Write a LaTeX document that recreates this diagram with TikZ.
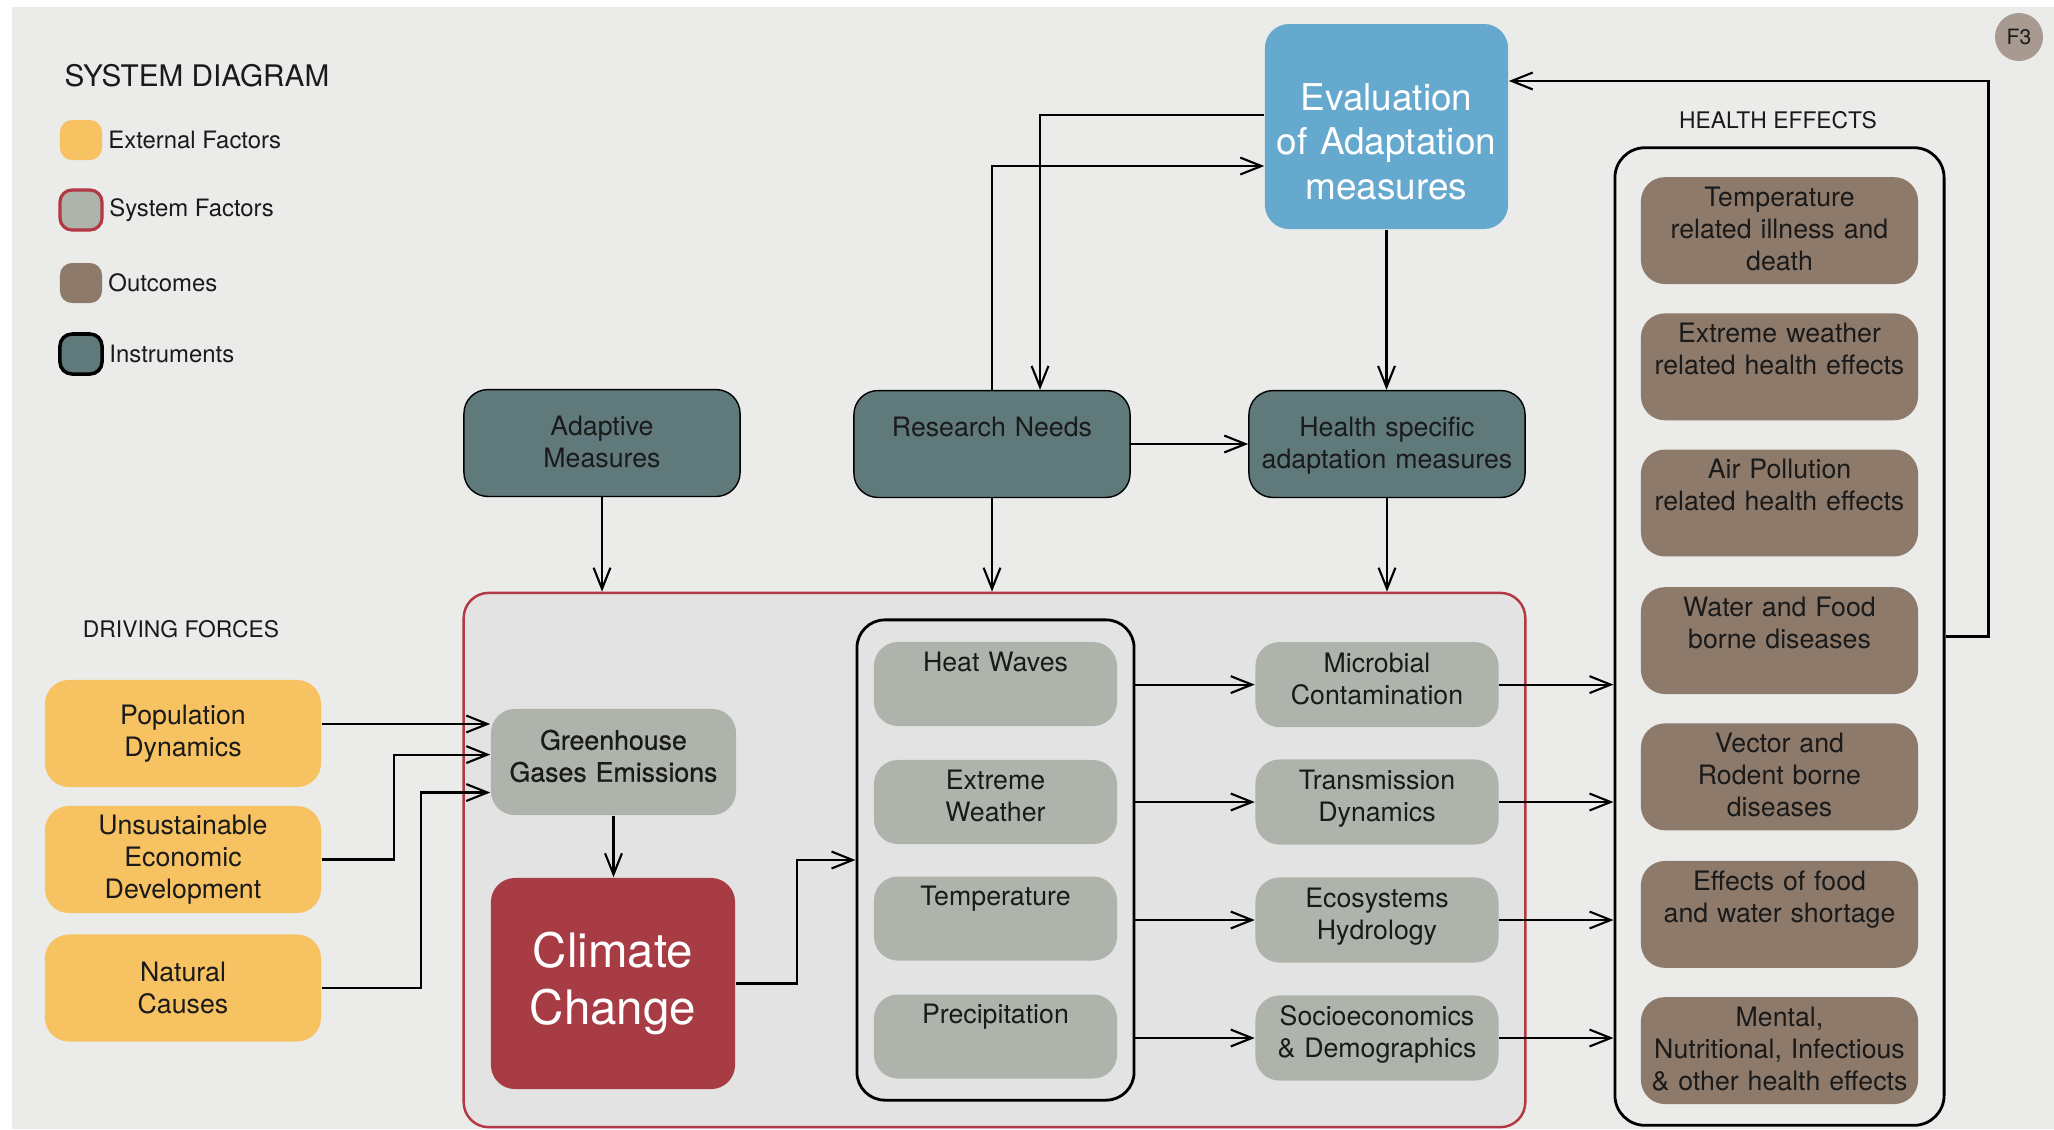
\documentclass[tikz,border=0pt]{standalone}
\usepackage{fontspec}
\setmainfont{TeX Gyre Heros}
\newfontfamily\medfont[FakeBold=0.8]{TeX Gyre Heros}
\usetikzlibrary{arrows.meta,positioning}

\definecolor{bgcol}{HTML}{EBECE9}
\definecolor{extcol}{HTML}{F7C262}
\definecolor{syscol}{HTML}{AEB4AC}
\definecolor{sysbg}{HTML}{E3E3E3}
\definecolor{sysred}{HTML}{B23843}
\definecolor{climcol}{HTML}{A83C45}
\definecolor{instcol}{HTML}{607A7C}
\definecolor{outcol}{HTML}{8D7A6B}
\definecolor{evalcol}{HTML}{66A9CF}
\definecolor{fthreecol}{HTML}{A89A90}
\definecolor{txtcol}{HTML}{1A1A1A}

\newcommand{\boxfont}{\fontsize{7.6}{9.1}\selectfont}
\newcommand{\legfont}{\fontsize{6.8}{8}\selectfont}
\newcommand{\headfont}{\fontsize{6.5}{8}\selectfont}
\newcommand{\titlefont}{\fontsize{8.45}{10}\selectfont}

\tikzset{
    box/.style={rounded corners=0.24cm, inner xsep=0.05cm, inner ysep=0pt,
        align=center, font=\boxfont, text=txtcol},
    extbox/.style={box, fill=extcol, text width=2.66cm, minimum height=1.07cm},
    sysfac/.style={box, fill=syscol, text width=2.33cm},
    wthbox/.style={sysfac, text height=8.3pt, text depth=15.6pt},
    midbox/.style={sysfac, text height=8.6pt, text depth=15.6pt},
    instbox/.style={box, fill=instcol, draw=black, line width=0.4pt,
        text width=2.66cm, text height=13.1pt, text depth=17.3pt},
    outbox/.style={box, fill=outcol, text width=2.67cm,
        text height=8.3pt, text depth=22.1pt},
    frame/.style={draw=black, line width=0.8pt, rounded corners=0.28cm,
        inner sep=0pt},
    swatch/.style={rounded corners=0.12cm, minimum width=0.42cm,
        minimum height=0.40cm, inner sep=0pt},
    legtxt/.style={font=\legfont, inner sep=0.02cm, text=txtcol},
    head/.style={font=\headfont, text=txtcol},
    flow/.style={->, line width=0.6pt}
}

\begin{document}
\begin{tikzpicture}[x=0.01cm, y=-0.01cm, >={Straight Barb[length=6pt,width=4.8pt]}]

    \useasboundingbox (0,0) rectangle (2054,1129);
    \fill[white] (0,0) rectangle (2054,1129);
    \fill[bgcol] (12,7) rectangle (2054,1129);

    % Llegenda
    \node[anchor=west, inner sep=0pt, font=\titlefont, text=txtcol] (title) at (64,76) {SYSTEM DIAGRAM};
    \node[swatch, fill=extcol] (swext) at (81,140) {};
    \node[swatch, fill=syscol, draw=sysred, line width=0.9pt] (swsys) at (81,210) {};
    \node[swatch, fill=outcol] (swout) at (81,283) {};
    \node[swatch, fill=instcol, draw=black, line width=1pt] (swinst) at (81,354) {};
    \node[legtxt, right=0.03cm of swext] (lext) {External Factors};
    \node[legtxt, right=0.03cm of swsys] (lsys) {System Factors};
    \node[legtxt, right=0.03cm of swout] (lout) {Outcomes};
    \node[legtxt, right=0.03cm of swinst] (linst) {Instruments};

    \node[circle, fill=fthreecol, minimum size=0.48cm, inner sep=0pt,
        font=\fontsize{6}{7}\selectfont, text=txtcol] (fthree) at (2019,37) {F3};

    % Marcs
    \node[frame, draw=sysred, fill=sysbg, line width=0.7pt, rounded corners=0.25cm,
        minimum width=10.61cm, minimum height=5.34cm] (sysframe) at (994.5,860) {};
    \node[frame, minimum width=2.77cm, minimum height=4.80cm] (wthframe) at (995.5,860) {};
    \node[frame, rounded corners=0.3cm, minimum width=3.29cm,
        minimum height=9.77cm] (hframe) at (1779.5,636.5) {};

    \node[head] (drive) at (181,629) {DRIVING FORCES};
    \node[head] (heffects) at (1778,120.5) {HEALTH EFFECTS};

    % Forces motrius
    \node[extbox] (popul) at (183,733.5) {Population\\Dynamics};
    \node[extbox] (econ) at (183,859.5) {Unsustainable\\Economic\\Development};
    \node[extbox] (natur) at (183,988) {Natural\\Causes};

    % Sistema
    \node[box, fill=syscol, text width=2.35cm, text height=11.6pt, text depth=18.6pt,
        font=\boxfont\medfont] (ghg) at (613.5,762) {Greenhouse\\Gases Emissions};
    \node[box, fill=climcol, text=white, text width=2.34cm, minimum height=2.11cm,
        font=\fontsize{13.5}{16.4}\selectfont] (clim) at (613,983.5) {Climate\\Change};

    \node[wthbox] (heat) at (995.5,684) {Heat Waves};
    \node[wthbox] (xweather) at (995.5,802) {Extreme\\Weather};
    \node[wthbox] (temper) at (995.5,918.5) {Temperature};
    \node[wthbox] (precip) at (995.5,1036.5) {Precipitation};

    \node[midbox] (micro) at (1377,684.6) {Microbial\\Contamination};
    \node[midbox] (transm) at (1377,802) {Transmission\\Dynamics};
    \node[midbox] (ecosys) at (1377,920) {Ecosystems\\Hydrology};
    \node[midbox] (socio) at (1377,1038) {Socioeconomics\\\& Demographics};

    % Instruments
    \node[instbox] (adapt) at (602,443) {Adaptive\\Measures};
    \node[instbox] (research) at (992,444) {Research Needs};
    \node[instbox] (hspec) at (1387,444) {Health specific\\adaptation measures};
    \node[box, fill=evalcol, text=white, text width=2.33cm,
        text height=24.5pt, text depth=33.8pt,
        font=\fontsize{10.5}{12.7}\selectfont] (evalm) at (1386.5,126.5)
        {Evaluation\\of Adaptation\\measures};

    % Efectes sobre la salut
    \node[outbox] (out1) at (1779.5,230.6) {Temperature\\related illness and\\death};
    \node[outbox] (out2) at (1779.5,366.8) {Extreme weather\\related health effects};
    \node[outbox] (out3) at (1779.5,503) {Air Pollution\\related health effects};
    \node[outbox] (out4) at (1779.5,640.6) {Water and Food\\borne diseases};
    \node[outbox] (out5) at (1779.5,776.8) {Vector and\\Rodent borne\\diseases};
    \node[outbox] (out6) at (1779.5,914.4) {Effects of food\\and water shortage};
    \node[outbox] (out7) at (1779.5,1050.6) {Mental,\\Nutritional, Infectious\\\& other health effects};

    % Fletxes
    \draw[flow] ([yshift=0.38cm]ghg.west -| popul.east) -- ([yshift=0.38cm]ghg.west);
    \draw[flow] (econ.east) -- ++(72,0) |- ([yshift=0.074cm]ghg.west);
    \draw[flow] (natur.east) -- ++(99.5,0) |- ([yshift=-0.305cm]ghg.west);
    \draw[flow] (ghg.south) -- (ghg.south |- clim.north);
    \draw[flow] (clim.east) -- ++(61.5,0) |- (wthframe.west);

    \draw[flow] (micro.west -| wthframe.east) -- (micro.west);
    \draw[flow] (transm.west -| wthframe.east) -- (transm.west);
    \draw[flow] (ecosys.west -| wthframe.east) -- (ecosys.west);
    \draw[flow] (socio.west -| wthframe.east) -- (socio.west);

    \draw[flow] (micro.east) -- (micro.east -| hframe.west);
    \draw[flow] (transm.east) -- (transm.east -| hframe.west);
    \draw[flow] (ecosys.east) -- (ecosys.east -| hframe.west);
    \draw[flow] (socio.east) -- (socio.east -| hframe.west);

    \draw[flow] (adapt.south) -- (adapt.south |- sysframe.north);
    \draw[flow] (research.south) -- (research.south |- sysframe.north);
    \draw[flow] (hspec.south) -- (hspec.south |- sysframe.north);
    \draw[flow] (research.east) -- (hspec.west);
    \draw[flow] (evalm.south) -- (evalm.south |- hspec.north);
    \draw[flow] (research.north) |- ([yshift=-0.395cm]evalm.west);
    \draw[flow] ([yshift=0.115cm]evalm.west) -| ([xshift=0.48cm]research.north);
    \draw[flow] (hframe.east) -- ++(43,0) |- ([yshift=0.455cm]evalm.east);

\end{tikzpicture}
\end{document}
